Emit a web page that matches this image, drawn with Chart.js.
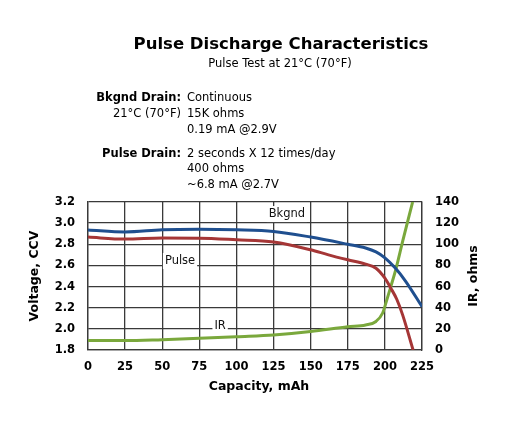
<!DOCTYPE html>
<html>
<head>
<meta charset="utf-8">
<script src="https://cdn.jsdelivr.net/npm/chart.js@4/dist/chart.umd.min.js"></script>
<style>
  html, body { margin: 0; padding: 0; background: #fff; }
  canvas { display: block; }
</style>
</head>
<body>
<canvas id="chart" width="516" height="436"></canvas>
<script>
// ---- Data ----
const bkgndCap = [0, 25, 50, 75, 100, 125, 150, 175, 187, 194, 200, 207, 214, 225];
const bkgndV   = [2.935, 2.916, 2.937, 2.942, 2.937, 2.922, 2.868, 2.800, 2.765, 2.728, 2.672, 2.575, 2.450, 2.210];

const pulseCap = [0, 25, 50, 75, 100, 125, 150, 162, 175, 187, 194, 200, 204, 208, 212, 219];
const pulseV   = [2.868, 2.849, 2.859, 2.858, 2.843, 2.822, 2.748, 2.700, 2.653, 2.612, 2.574, 2.480, 2.385, 2.280, 2.130, 1.800];

const irCap = [0, 25, 50, 75, 100, 125, 150, 175, 187, 194, 198.5, 201, 204, 207.5, 212, 218.7];
const irOhm = [8.9, 8.9, 9.8, 11, 12.6, 14.2, 17.4, 22, 23.7, 27, 35, 46, 60, 77, 103, 140];

const xTicks = [0, 25, 50, 75, 100, 125, 150, 175, 200, 225];
const voltTicks = [1.8, 2.0, 2.2, 2.4, 2.6, 2.8, 3.0, 3.2];
const irTicks = [0, 20, 40, 60, 80, 100, 120, 140];

// curve labels, placed in data units
const curveLabels = [
    { text: 'Bkgnd', x: 134, y: 3.086 },
    { text: 'Pulse', x: 62, y: 2.642 },
    { text: 'IR', x: 89, y: 2.027 }
];

const FONT = '"DejaVu Sans", Verdana, sans-serif';

const pts = (xs, ys) => xs.map((x, i) => ({ x: x, y: ys[i] }));

// ---- Plugin: heading, drain notes, axis titles ----
const textPlugin = {
    id: 'texts',
    beforeDatasetsDraw(chart) {
        const ctx = chart.ctx;
        const xs = chart.scales.x, ys = chart.scales.y;
        ctx.save();
        ctx.font = '11.5px ' + FONT;
        ctx.textAlign = 'center';
        ctx.textBaseline = 'middle';
        curveLabels.forEach(l => {
            const px = xs.getPixelForValue(l.x);
            const py = ys.getPixelForValue(l.y);
            const w = ctx.measureText(l.text).width + 4;
            ctx.fillStyle = '#fff';
            ctx.fillRect(px - w / 2, py - 8, w, 16);
            ctx.fillStyle = '#111';
            ctx.fillText(l.text, px, py);
        });
        ctx.restore();
    },
    afterDraw(chart) {
        const ctx = chart.ctx;
        ctx.save();
        ctx.fillStyle = '#000';
        ctx.textBaseline = 'alphabetic';

        // title
        ctx.textAlign = 'center';
        ctx.font = 'bold 16.5px ' + FONT;
        ctx.fillText('Pulse Discharge Characteristics', 281, 49);
        ctx.font = '11.5px ' + FONT;
        ctx.fillText('Pulse Test at 21°C (70°F)', 280, 67);

        // drain notes
        const rows = [
            ['Bkgnd Drain:', true, 'Continuous', 100.5],
            ['21°C (70°F)', false, '15K ohms', 117],
            ['', false, '0.19 mA @2.9V', 133],
            ['Pulse Drain:', true, '2 seconds X 12 times/day', 157],
            ['', false, '400 ohms', 171.5],
            ['', false, '~6.8 mA @2.7V', 187.5]
        ];
        rows.forEach(r => {
            ctx.textAlign = 'right';
            ctx.font = (r[1] ? 'bold ' : '') + '11.5px ' + FONT;
            if (r[0]) ctx.fillText(r[0], 181, r[3]);
            ctx.textAlign = 'left';
            ctx.font = '11.5px ' + FONT;
            ctx.fillText(r[2], 187, r[3]);
        });

        // axis titles
        ctx.font = 'bold 12.5px ' + FONT;
        ctx.textAlign = 'center';
        ctx.textBaseline = 'middle';
        ctx.fillText('Capacity, mAh', 259, 387);

        ctx.translate(35, 276);
        ctx.rotate(-Math.PI / 2);
        ctx.fillText('Voltage, CCV', 0, 0);
        ctx.restore();

        ctx.save();
        ctx.fillStyle = '#000';
        ctx.font = 'bold 12.5px ' + FONT;
        ctx.textAlign = 'center';
        ctx.textBaseline = 'middle';
        ctx.translate(473.5, 276);
        ctx.rotate(-Math.PI / 2);
        ctx.fillText('IR, ohms', 0, 0);
        ctx.restore();
    }
};

const gridColor = '#3a3a3a';
const tickFont = { family: FONT, size: 11.5, weight: 'bold' };

new Chart(document.getElementById('chart'), {
    type: 'line',
    data: {
        datasets: [
            {
                label: 'Bkgnd',
                data: pts(bkgndCap, bkgndV),
                borderColor: '#1f4f8f',
                yAxisID: 'y'
            },
            {
                label: 'Pulse',
                data: pts(pulseCap, pulseV),
                borderColor: '#a53636',
                yAxisID: 'y'
            },
            {
                label: 'IR',
                data: pts(irCap, irOhm),
                borderColor: '#7aa83c',
                yAxisID: 'y2'
            }
        ]
    },
    options: {
        responsive: false,
        animation: false,
        layout: { padding: { top: 202, left: 0, right: 0, bottom: 0 } },
        elements: {
            line: { borderWidth: 3, cubicInterpolationMode: 'monotone', fill: false },
            point: { radius: 0 }
        },
        plugins: {
            legend: { display: false },
            tooltip: { enabled: false }
        },
        scales: {
            x: {
                type: 'linear',
                min: 0,
                max: 225,
                afterBuildTicks: s => { s.ticks = xTicks.map(v => ({ value: v })); },
                afterFit: s => { s.height = 86; },
                grid: { color: gridColor, lineWidth: 1.3, drawTicks: false },
                border: { color: gridColor, width: 1.3 },
                ticks: { color: '#000', font: tickFont, padding: 10, maxRotation: 0 }
            },
            y: {
                position: 'left',
                min: 1.8,
                max: 3.2,
                afterBuildTicks: s => { s.ticks = voltTicks.map(v => ({ value: v })); },
                afterFit: s => { s.width = 88; },
                grid: { color: gridColor, lineWidth: 1.3, drawTicks: false },
                border: { color: gridColor, width: 1.3 },
                ticks: { color: '#000', font: tickFont, padding: 13, callback: v => v.toFixed(1) }
            },
            y2: {
                position: 'right',
                min: 0,
                max: 140,
                afterBuildTicks: s => { s.ticks = irTicks.map(v => ({ value: v })); },
                afterFit: s => { s.width = 94; },
                grid: { display: false, drawTicks: false },
                border: { color: gridColor, width: 1.3 },
                ticks: { color: '#000', font: tickFont, padding: 13 }
            }
        }
    },
    plugins: [textPlugin]
});
</script>
</body>
</html>
